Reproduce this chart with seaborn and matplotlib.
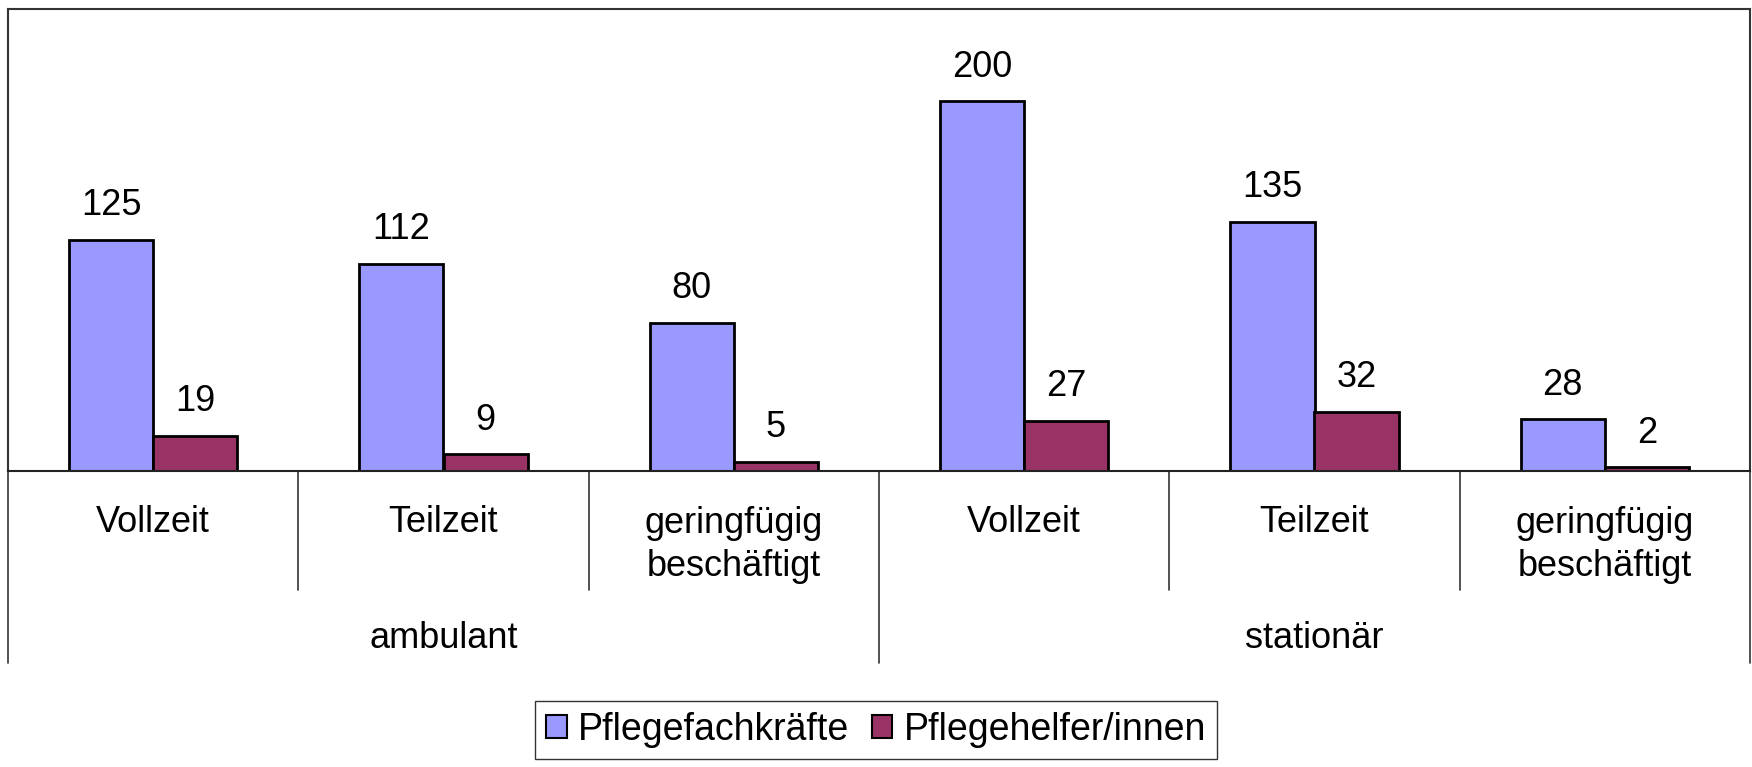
import matplotlib
matplotlib.use("Agg")
import matplotlib.pyplot as plt
import matplotlib.transforms as mtransforms
from matplotlib.patches import Patch
import seaborn as sns
import pandas as pd

# data
settings = ["ambulant", "stationär"]
job_types = ["Vollzeit", "Teilzeit", "geringfügig\nbeschäftigt"]
series_names = ["Pflegefachkräfte", "Pflegehelfer/innen"]
fachkraefte = [125, 112, 80, 200, 135, 28]
helfer = [19, 9, 5, 27, 32, 2]
colors = {"Pflegefachkräfte": "#9999FF", "Pflegehelfer/innen": "#993366"}

sns.set_style("white")
plt.rcParams["font.family"] = ["Liberation Sans", "DejaVu Sans"]
plt.rcParams["text.color"] = "black"

keys = [f"{s}|{j}" for s in settings for j in job_types]
rows = []
for k, a, b in zip(keys, fachkraefte, helfer):
    rows.append({"key": k, "Gruppe": series_names[0], "Anzahl": a})
    rows.append({"key": k, "Gruppe": series_names[1], "Anzahl": b})
df = pd.DataFrame(rows)

fig = plt.figure(figsize=(17.52, 7.67), dpi=100)
ax = fig.add_axes([8 / 1752, 1 - 471 / 767, 1742 / 1752, 462 / 767])

sns.barplot(data=df, x="key", y="Anzahl", hue="Gruppe", order=keys,
            hue_order=series_names, palette=colors, saturation=1,
            width=0.58, edgecolor="black", linewidth=2, ax=ax)

ax.set_xlim(-0.5, len(keys) - 0.5)
ax.set_ylim(0, 250)
ax.set_xticks([])
ax.set_yticks([])
ax.set_xlabel("")
ax.set_ylabel("")
for side in ["top", "left", "right"]:
    ax.spines[side].set_color("#333333")
    ax.spines[side].set_linewidth(1.5)
ax.spines["bottom"].set_color("#222222")
ax.spines["bottom"].set_linewidth(1.5)

for cont in ax.containers:
    ax.bar_label(cont, labels=[f"{v:g}" for v in cont.datavalues],
                 padding=12, fontsize=26)

# two-level category axis below the plot
trans = mtransforms.blended_transform_factory(ax.transData, fig.transFigure)
y_axis = 1 - 471 / 767
y_minor = 1 - 590 / 767
y_major = 1 - 663 / 767
n = len(job_types)
for i in range(len(keys) + 1):
    x = i - 0.5
    y_end = y_major if i % n == 0 else y_minor
    ax.plot([x, x], [y_axis, y_end], color="#333333", lw=1.2,
            transform=trans, clip_on=False)

for i, k in enumerate(keys):
    label = k.split("|")[1]
    y = 1 - 545 / 767 if "\n" in label else 1 - 522 / 767
    ax.text(i, y, label, transform=trans, ha="center", va="center",
            fontsize=26, linespacing=1.32)

for g, s in enumerate(settings):
    ax.text(g * n + (n - 1) / 2, 1 - 639 / 767, s, transform=trans,
            ha="center", va="center", fontsize=26)

ax.get_legend().remove()
handles = [Patch(facecolor=colors[s], edgecolor="black", linewidth=1.5)
           for s in series_names]
leg = fig.legend(handles, series_names, loc="center",
                 bbox_to_anchor=(0.5, 1 - 730 / 767), ncol=2, fontsize=27,
                 frameon=True, fancybox=False, handlelength=0.55,
                 handleheight=0.55, handletextpad=0.3, columnspacing=0.6,
                 borderpad=0.3)
leg.get_frame().set_edgecolor("black")
leg.get_frame().set_linewidth(1)

fig.savefig("out.png", dpi=100, facecolor="white")
